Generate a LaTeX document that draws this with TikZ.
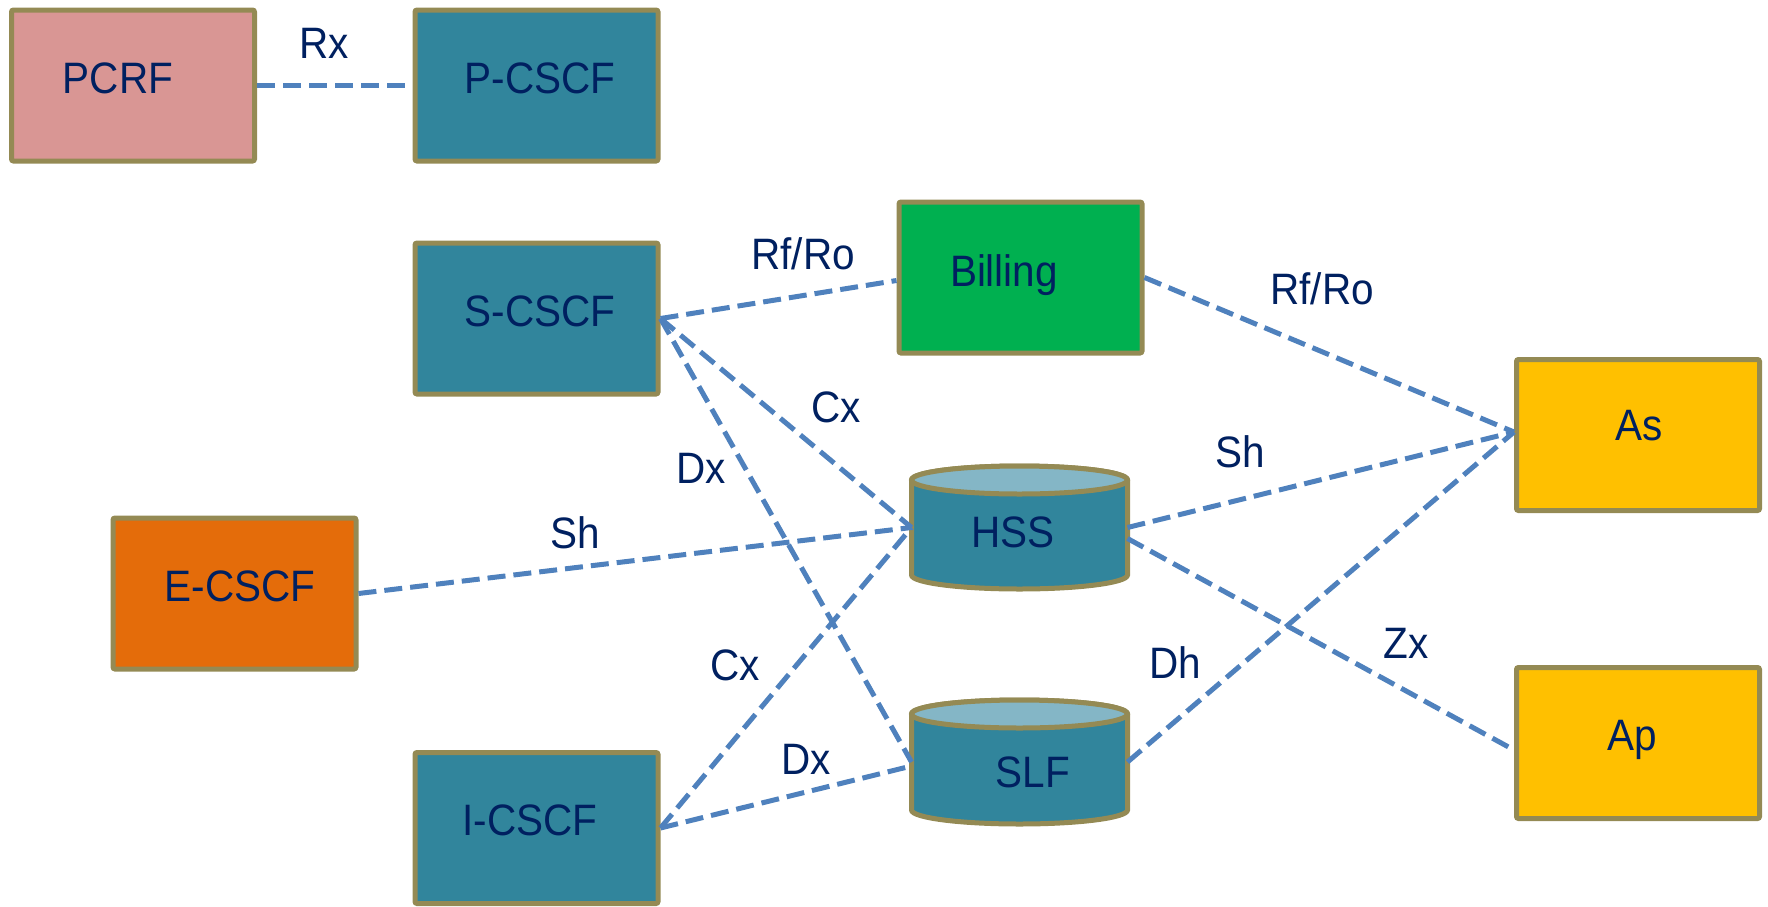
\documentclass[tikz,border=0pt]{standalone}
\usepackage{fontspec}
\setmainfont{Liberation Sans}[FakeStretch=0.92]
\definecolor{rim}{HTML}{948A54}
\definecolor{pinkfill}{HTML}{D99694}
\definecolor{tealfill}{HTML}{31859C}
\definecolor{tealtop}{HTML}{84B6C6}
\definecolor{greenfill}{HTML}{00B050}
\definecolor{orangefill}{HTML}{E46C0A}
\definecolor{goldfill}{HTML}{FFC000}
\definecolor{ink}{HTML}{002060}
\definecolor{link}{HTML}{4F81BD}
\tikzset{
  box/.style={draw=rim, line width=2.5pt, rounded corners=1pt,
    minimum width=121.5pt, minimum height=75.5pt, inner sep=0pt},
  txt/.style={text=ink, font=\fontsize{22}{26}\selectfont, inner sep=0pt,
    text height=0.716em, text depth=0pt, anchor=center},
  holder/.style={draw=none, inner sep=0pt, outer sep=0pt,
    minimum width=108pt, minimum height=47.5pt},
  iface/.style={draw=link, line width=2.5pt, dash pattern=on 9pt off 4pt},
  drum/.style={draw=rim, line width=2.5pt},
}
\begin{document}
\begin{tikzpicture}[x=0.5pt, y=-0.5pt]
\useasboundingbox (0,0) rectangle (1768,906);

% rectangular functions
\node[box, fill=pinkfill]   (pcrf)    at (133,85.5)   {};
\node[box, fill=tealfill]   (pcscf)   at (536.5,85.5) {};
\node[box, fill=tealfill]   (scscf)   at (536.5,318.5) {};
\node[box, fill=greenfill]  (billing) at (1020.5,277.5) {};
\node[box, fill=goldfill]   (as)      at (1638,435)   {};
\node[box, fill=goldfill]   (ap)      at (1638,743)   {};
\node[box, fill=orangefill] (ecscf)   at (234.5,593.5) {};
\node[box, fill=tealfill]   (icscf)   at (536.5,828)  {};

% databases: anchor holders for the cylinder bodies
\node[holder] (hss) at (1019.5,527.5) {};
\node[holder] (slf) at (1019.5,762)   {};

% cylinder drawings
\foreach \db/\top/\bot in {hss/480/575, slf/714/810} {
  \path[drum, fill=tealfill]
    (911.5,\top) -- (911.5,\bot)
    arc[start angle=180, end angle=360, x radius=54pt, y radius=7pt]
    -- (1127.5,\top)
    arc[start angle=0, end angle=180, x radius=54pt, y radius=7pt] -- cycle;
  \path[drum, fill=tealtop] (1019.5,\top) ellipse[x radius=54pt, y radius=7pt];
}

% names inside the shapes
\node[txt] (pcrf-t)    at (118,86)    {PCRF};
\node[txt] (pcscf-t)   at (540,86)    {P-CSCF};
\node[txt] (scscf-t)   at (540,319)   {S-CSCF};
\node[txt] (billing-t) at (1004,279)  {Billing};
\node[txt] (as-t)      at (1639,433)  {As};
\node[txt] (ap-t)      at (1632,743)  {Ap};
\node[txt] (ecscf-t)   at (240,594)   {E-CSCF};
\node[txt] (icscf-t)   at (530,828)   {I-CSCF};
\node[txt] (hss-t)     at (1013,540)  {HSS};
\node[txt] (slf-t)     at (1033,780)  {SLF};

% reference points
\draw[iface] (pcrf.east) -- (pcscf.west);
\draw[iface] (scscf.east) -- ([yshift=-1.5pt]billing.west);
\draw[iface] (billing.east) -- ([yshift=1.5pt]as.west);
\draw[iface] (scscf.east) -- (hss.west);
\draw[iface] (scscf.east) -- (slf.west);
\draw[iface] (ecscf.east) -- (hss.west);
\draw[iface] (icscf.east) -- (hss.west);
\draw[iface] (icscf.east) -- ([yshift=-2pt]slf.west);
\draw[iface] (hss.east) -- ([yshift=1.5pt]as.west);
\draw[iface] ([yshift=-5.5pt]hss.east) -- ([yshift=-3.5pt]ap.west);
\draw[iface] (slf.east) -- ([yshift=1.5pt]as.west);

% interface labels
\node[txt] (l-rx)   at (324,51)   {Rx};
\node[txt] (l-rf1)  at (803,262)  {Rf/Ro};
\node[txt] (l-rf2)  at (1322,297) {Rf/Ro};
\node[txt] (l-cx1)  at (836,415)  {Cx};
\node[txt] (l-dx1)  at (701,476)  {Dx};
\node[txt] (l-sh1)  at (575,541)  {Sh};
\node[txt] (l-cx2)  at (735,673)  {Cx};
\node[txt] (l-dx2)  at (806,767)  {Dx};
\node[txt] (l-sh2)  at (1240,460) {Sh};
\node[txt] (l-zx)   at (1406,651) {Zx};
\node[txt] (l-dh)   at (1175,671) {Dh};
\end{tikzpicture}
\end{document}
